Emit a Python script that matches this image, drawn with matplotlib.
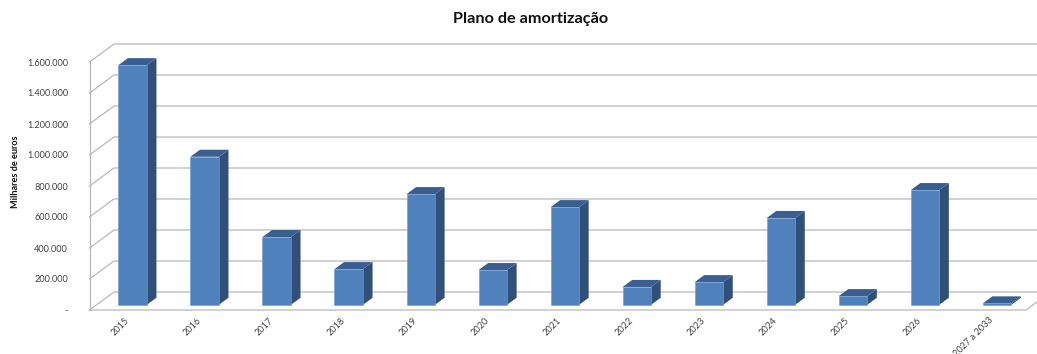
"""Plano de amortização, 3D-look column chart."""

from matplotlib import pyplot as plt
from matplotlib.patches import Polygon
from matplotlib.transforms import ScaledTranslation

plt.rcParams["font.family"] = ["Lato", "DejaVu Sans"]

CATEGORIES = [
    "2015", "2016", "2017", "2018", "2019", "2020", "2021",
    "2022", "2023", "2024", "2025", "2026", "2027 a 2033",
]
VALUES = [
    1546000, 955000, 437000, 230000, 714000, 224000, 630000,
    115000, 146000, 560000, 56000, 740000, 9000,
]
Y_TICKS = [0, 200000, 400000, 600000, 800000, 1000000, 1200000, 1400000, 1600000]
Y_LABELS = ["-", "200.000", "400.000", "600.000", "800.000",
            "1.000.000", "1.200.000", "1.400.000", "1.600.000"]

WIDTH, HEIGHT = 1037, 354
GRID = "#b8b8b8"
FRONT = "#4f81bd"
SIDE = "#30507a"
TOP = "#385f90"

# floor depth expressed in data units
DEPTH_X = 24.5 / 72.04
DEPTH_Y = 18 / 248 * 1600000
BAR_WIDTH = 0.396
BAR_NEAR, BAR_FAR = 0.29, 0.68


def project(x, value, depth=0.0):
    return x + depth * DEPTH_X, value + depth * DEPTH_Y


fig = plt.figure(figsize=(WIDTH / 100, HEIGHT / 100), dpi=100)
ax = fig.add_axes([89.5 / WIDTH, (HEIGHT - 310) / HEIGHT, 936.5 / WIDTH, 248 / HEIGHT])
ax.set_xlim(-0.5, len(CATEGORIES) - 0.5)
ax.set_ylim(0, 1600000)
for spine in ax.spines.values():
    spine.set_visible(False)

left, right = ax.get_xlim()
for tick in Y_TICKS:
    xs, ys = zip(project(left, tick), project(left, tick, 1), project(right, tick, 1))
    ax.plot(xs, ys, color=GRID, lw=0.9, clip_on=False, zorder=1)
ax.plot([left, left], [0, 1600000], color=GRID, lw=0.9, clip_on=False, zorder=1)
xs, ys = zip(project(left, 0), project(right, 0), project(right, 0, 1))
ax.plot(xs, ys, color=GRID, lw=0.9, clip_on=False, zorder=1)

for i, value in enumerate(VALUES):
    x0, x1 = i - BAR_WIDTH / 2, i + BAR_WIDTH / 2
    front = [project(x0, 0, BAR_NEAR), project(x1, 0, BAR_NEAR),
             project(x1, value, BAR_NEAR), project(x0, value, BAR_NEAR)]
    side = [project(x1, 0, BAR_NEAR), project(x1, 0, BAR_FAR),
            project(x1, value, BAR_FAR), project(x1, value, BAR_NEAR)]
    top = [project(x0, value, BAR_NEAR), project(x1, value, BAR_NEAR),
           project(x1, value, BAR_FAR), project(x0, value, BAR_FAR)]
    ax.add_patch(Polygon(side, facecolor=SIDE, edgecolor="none", zorder=3, clip_on=False))
    ax.add_patch(Polygon(top, facecolor=TOP, edgecolor="none", zorder=3, clip_on=False))
    ax.add_patch(Polygon(front, facecolor=FRONT, edgecolor="#6f9bd0", lw=0.4, zorder=4, clip_on=False))

ax.set_yticks(Y_TICKS, Y_LABELS, fontsize=6.6, color="#404040")
ax.tick_params(axis="y", length=0, pad=15.5)
ax.set_xticks(range(len(CATEGORIES)))
ax.set_xticklabels(CATEGORIES, rotation=45, ha="right", va="center",
                   rotation_mode="anchor", fontsize=6.6, color="#404040")
ax.tick_params(axis="x", length=0, pad=0)
shift = ScaledTranslation(1.5 / 72, -6.5 / 72, fig.dpi_scale_trans)
for label in ax.get_xticklabels():
    label.set_transform(label.get_transform() + shift)

fig.text(15.5 / WIDTH, 1 - 172 / HEIGHT, "Milhares de euros", rotation=90, ha="center",
         va="center", fontsize=6.6, fontweight="bold", color="#111111")
fig.text(531 / WIDTH, 1 - 19 / HEIGHT, "Plano de amortização", ha="center", va="center",
         fontsize=11.7, fontweight="bold", color="#111111")

fig.savefig("out.png", dpi=100)
